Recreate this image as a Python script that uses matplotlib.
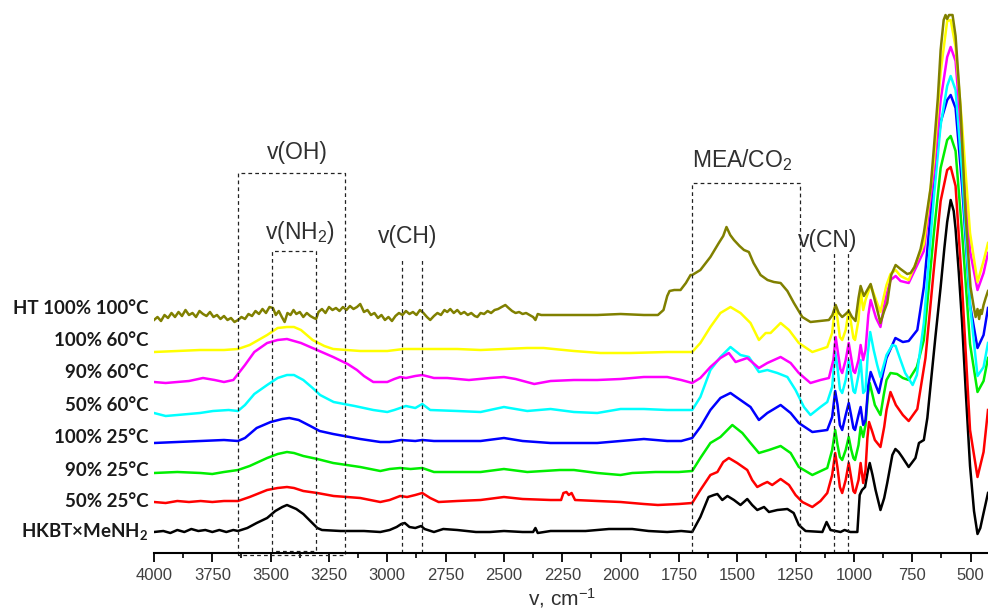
import numpy as np
import matplotlib
matplotlib.use("Agg")
import matplotlib.pyplot as plt
from matplotlib.ticker import MultipleLocator
import matplotlib.transforms as mtransforms

plt.rcParams['font.family'] = ['Liberation Sans', 'DejaVu Sans']
plt.rcParams['mathtext.default'] = 'regular'

# IR spectra, (wavenumber cm-1, offset intensity a.u.)
hkbt = [(4000, 21), (3960, 22), (3930, 20), (3900, 23), (3870, 21), (3840, 24), (3810, 22),
        (3780, 23), (3750, 21), (3720, 23), (3690, 21), (3660, 23), (3640, 22), (3600, 25),
        (3560, 30), (3515, 35), (3480, 42), (3450, 46), (3430, 48), (3410, 46), (3390, 44),
        (3360, 39), (3330, 32), (3300, 25), (3280, 23), (3200, 22), (3100, 22), (3030, 21),
        (2990, 23), (2960, 26), (2940, 29), (2925, 30), (2905, 26), (2880, 25), (2855, 27),
        (2840, 24), (2800, 21), (2760, 24), (2700, 23), (2620, 21), (2560, 21), (2500, 22),
        (2420, 21), (2375, 21), (2365, 25), (2355, 20), (2300, 22), (2150, 22), (2050, 24),
        (1950, 24), (1880, 22), (1800, 21), (1740, 22), (1693, 21), (1658, 36), (1623, 56),
        (1600, 58), (1585, 59), (1564, 53), (1542, 57), (1514, 53), (1486, 48), (1457, 54),
        (1436, 48), (1414, 43), (1385, 46), (1364, 41), (1328, 43), (1285, 44), (1258, 40),
        (1236, 28), (1207, 22), (1135, 21), (1117, 31), (1100, 23), (1057, 21), (1040, 23),
        (1015, 21), (985, 21), (975, 58), (965, 63), (952, 66), (940, 82), (932, 90),
        (920, 78), (907, 63), (886, 43), (870, 55), (857, 70), (835, 98), (822, 104),
        (808, 101), (793, 96), (765, 86), (736, 95), (721, 110), (700, 113), (685, 135),
        (671, 168), (650, 217), (628, 266), (612, 305), (600, 331), (585, 353), (572, 342),
        (564, 324), (550, 280), (536, 230), (520, 160), (502, 87), (485, 42), (470, 19),
        (458, 25), (444, 40), (425, 60)]

r50_25 = [(4000, 51), (3950, 50), (3900, 52), (3850, 51), (3800, 52), (3750, 51), (3700, 52),
          (3640, 52), (3590, 56), (3515, 63), (3470, 65), (3430, 66), (3400, 65), (3360, 62),
          (3300, 60), (3230, 57), (3116, 55), (3030, 51), (2990, 53), (2945, 57), (2915, 56),
          (2880, 58), (2850, 60), (2816, 55), (2780, 51), (2700, 52), (2600, 53), (2500, 56),
          (2420, 54), (2300, 53), (2255, 53), (2245, 60), (2232, 61), (2222, 58), (2210, 60),
          (2195, 53), (2100, 52), (2000, 51), (1900, 49), (1840, 48), (1750, 49), (1693, 50),
          (1658, 63), (1615, 78), (1585, 81), (1560, 91), (1536, 95), (1500, 90), (1457, 83),
          (1436, 73), (1414, 66), (1390, 69), (1371, 71), (1350, 68), (1314, 74), (1278, 68),
          (1250, 58), (1221, 51), (1178, 46), (1143, 52), (1114, 60), (1093, 78), (1080, 100),
          (1070, 85), (1060, 66), (1050, 60), (1035, 73), (1022, 90), (1012, 76), (1002, 62),
          (995, 60), (980, 73), (971, 90), (960, 70), (950, 83), (942, 115), (935, 131),
          (922, 122), (910, 113), (886, 106), (870, 126), (860, 143), (843, 161), (820, 148),
          (790, 138), (765, 132), (728, 144), (693, 195), (657, 284), (628, 352), (600, 383),
          (585, 386), (564, 367), (536, 266), (502, 123), (470, 76), (444, 101), (425, 143)]

g90_25 = [(4000, 80), (3900, 81), (3800, 80), (3750, 79), (3700, 81), (3640, 83), (3590, 87),
          (3515, 95), (3470, 99), (3430, 101), (3400, 100), (3360, 97), (3300, 94), (3232, 90),
          (3116, 86), (3030, 82), (2990, 84), (2945, 85), (2900, 84), (2850, 85), (2800, 81),
          (2700, 81), (2600, 81), (2500, 84), (2400, 81), (2260, 83), (2200, 83), (2100, 80),
          (2000, 78), (1950, 80), (1850, 81), (1750, 81), (1693, 82), (1658, 95), (1615, 110),
          (1572, 116), (1521, 128), (1478, 120), (1443, 110), (1407, 100), (1364, 103),
          (1314, 107), (1271, 100), (1236, 86), (1178, 78), (1114, 85), (1093, 103), (1080, 123),
          (1070, 108), (1060, 96), (1050, 93), (1035, 103), (1022, 116), (1012, 104),
          (1002, 95), (995, 93), (980, 108), (971, 126), (960, 116), (950, 128), (940, 158),
          (932, 170), (920, 158), (910, 148), (886, 138), (872, 158), (860, 173), (843, 180),
          (815, 179), (790, 175), (765, 173), (730, 186), (700, 213), (657, 320), (628, 385),
          (600, 413), (585, 417), (564, 402), (536, 320), (502, 209), (470, 161), (444, 172),
          (425, 195)]

b100_25 = [(4000, 110), (3900, 111), (3800, 112), (3700, 113), (3640, 112), (3610, 115),
           (3560, 125), (3500, 131), (3450, 134), (3420, 135), (3380, 133), (3330, 127),
           (3290, 122), (3232, 119), (3116, 114), (3030, 111), (2990, 111), (2940, 113),
           (2880, 112), (2850, 113), (2800, 112), (2700, 112), (2600, 112), (2500, 115),
           (2420, 112), (2300, 110), (2200, 110), (2100, 110), (2000, 112), (1900, 114),
           (1800, 112), (1740, 112), (1693, 115), (1658, 126), (1615, 143), (1572, 155),
           (1529, 160), (1486, 153), (1443, 146), (1407, 133), (1371, 140), (1314, 148),
           (1271, 140), (1236, 130), (1178, 121), (1114, 123), (1093, 136), (1080, 162),
           (1070, 148), (1060, 128), (1050, 123), (1035, 138), (1022, 150), (1012, 138),
           (1002, 125), (995, 123), (980, 138), (971, 146), (960, 128), (950, 133), (938, 168),
           (928, 181), (910, 170), (893, 160), (875, 180), (860, 195), (822, 215), (790, 211),
           (765, 212), (728, 223), (700, 266), (657, 374), (628, 431), (600, 453), (585, 458),
           (564, 445), (536, 367), (502, 248), (470, 205), (444, 218), (425, 245)]

c50_60 = [(4000, 140), (3950, 137), (3900, 138), (3803, 140), (3747, 142), (3680, 143),
          (3640, 142), (3610, 148), (3570, 159), (3515, 168), (3470, 175), (3430, 178),
          (3400, 178), (3360, 173), (3320, 165), (3288, 158), (3230, 151), (3140, 147),
          (3060, 143), (3000, 141), (2970, 143), (2945, 145), (2920, 147), (2880, 145),
          (2850, 149), (2816, 143), (2700, 142), (2600, 141), (2500, 146), (2400, 142),
          (2300, 144), (2200, 141), (2100, 140), (2000, 144), (1900, 144), (1800, 143),
          (1693, 143), (1658, 156), (1615, 183), (1572, 196), (1529, 206), (1486, 198),
          (1450, 196), (1407, 181), (1371, 183), (1328, 180), (1285, 176), (1250, 163),
          (1214, 146), (1186, 138), (1143, 146), (1114, 151), (1093, 166), (1080, 201),
          (1070, 185), (1060, 164), (1050, 160), (1035, 173), (1022, 193), (1012, 178),
          (1002, 162), (995, 160), (980, 178), (971, 193), (960, 160), (950, 163), (940, 200),
          (930, 221), (915, 203), (900, 188), (886, 176), (860, 198), (835, 208), (821, 207),
          (800, 193), (780, 180), (748, 168), (730, 178), (700, 230), (657, 356), (628, 428),
          (600, 467), (585, 477), (564, 463), (536, 381), (502, 248), (470, 177), (444, 186),
          (425, 210)]

m90_60 = [(4000, 171), (3950, 170), (3900, 171), (3850, 172), (3790, 175), (3740, 173),
          (3700, 171), (3660, 173), (3640, 179), (3610, 188), (3570, 201), (3515, 210),
          (3470, 213), (3430, 214), (3400, 212), (3370, 210), (3301, 203), (3232, 196),
          (3170, 189), (3130, 183), (3100, 177), (3060, 171), (3000, 171), (2970, 174),
          (2945, 176), (2920, 175), (2880, 177), (2850, 178), (2800, 175), (2743, 175),
          (2650, 173), (2560, 175), (2500, 176), (2450, 174), (2370, 169), (2300, 172),
          (2200, 173), (2100, 173), (2000, 174), (1900, 176), (1800, 176), (1740, 173),
          (1693, 170), (1658, 175), (1615, 186), (1572, 195), (1536, 200), (1507, 191),
          (1457, 195), (1407, 185), (1371, 190), (1314, 196), (1271, 190), (1236, 180),
          (1186, 170), (1143, 173), (1107, 175), (1088, 193), (1078, 216), (1068, 200),
          (1058, 184), (1050, 180), (1035, 193), (1022, 210), (1012, 196), (1002, 182),
          (995, 180), (980, 193), (971, 208), (960, 193), (950, 203), (938, 238), (928, 253),
          (905, 235), (886, 226), (872, 245), (860, 258), (843, 273), (821, 277), (800, 272),
          (765, 270), (700, 302), (657, 381), (628, 453), (600, 496), (585, 506), (564, 492),
          (536, 410), (502, 302), (470, 263), (444, 280), (425, 300)]

y100_60 = [(4000, 201), (3900, 202), (3803, 203), (3700, 203), (3640, 204), (3590, 208),
           (3515, 218), (3470, 225), (3430, 226), (3400, 226), (3370, 223), (3320, 213),
           (3270, 207), (3232, 204), (3116, 202), (3000, 202), (2930, 204), (2850, 204),
           (2700, 204), (2600, 203), (2500, 204), (2400, 205), (2330, 205), (2200, 202),
           (2087, 200), (1958, 200), (1800, 201), (1693, 201), (1658, 210), (1615, 226),
           (1572, 240), (1529, 246), (1486, 240), (1443, 230), (1407, 213), (1378, 220),
           (1357, 220), (1314, 230), (1278, 223), (1236, 210), (1178, 201), (1114, 206),
           (1093, 220), (1080, 248), (1070, 234), (1060, 216), (1050, 213), (1035, 223),
           (1022, 243), (1012, 230), (1002, 215), (995, 213), (980, 233), (971, 263), (960, 243),
           (950, 253), (928, 268), (905, 253), (886, 241), (872, 256), (860, 268), (843, 279),
           (821, 283), (800, 277), (765, 273), (700, 309), (657, 392), (628, 481), (600, 532),
           (585, 533), (564, 506), (536, 428), (502, 320), (470, 271), (444, 292), (425, 310)]

ht100_100 = [(4000, 233), (3985, 236), (3970, 232), (3955, 238), (3940, 235), (3925, 240),
             (3910, 236), (3895, 241), (3880, 237), (3865, 243), (3850, 238), (3835, 240),
             (3820, 236), (3805, 242), (3790, 239), (3775, 237), (3760, 241), (3745, 236),
             (3730, 238), (3715, 234), (3700, 237), (3685, 233), (3670, 235), (3655, 231),
             (3640, 233), (3625, 236), (3610, 234), (3595, 239), (3580, 237), (3565, 242),
             (3550, 239), (3535, 244), (3520, 240), (3505, 246), (3490, 245), (3478, 238),
             (3465, 242), (3452, 236), (3440, 231), (3428, 240), (3415, 238), (3402, 243),
             (3390, 239), (3375, 241), (3360, 236), (3345, 240), (3330, 237), (3315, 235),
             (3305, 234), (3295, 241), (3280, 244), (3265, 240), (3250, 246), (3235, 243),
             (3220, 245), (3205, 242), (3190, 246), (3175, 243), (3160, 247), (3145, 244),
             (3130, 246), (3116, 249), (3100, 241), (3085, 243), (3070, 238), (3055, 240),
             (3040, 235), (3025, 238), (3010, 233), (2995, 236), (2980, 232), (2965, 237),
             (2950, 240), (2935, 238), (2920, 242), (2905, 239), (2890, 241), (2875, 238),
             (2860, 243), (2845, 240), (2830, 236), (2816, 233), (2800, 237), (2785, 240),
             (2770, 238), (2755, 243), (2743, 241), (2730, 244), (2715, 240), (2700, 243),
             (2685, 239), (2670, 241), (2655, 238), (2640, 240), (2625, 237), (2614, 236),
             (2600, 240), (2585, 239), (2570, 242), (2555, 240), (2540, 243), (2525, 244),
             (2510, 246), (2494, 248), (2480, 245), (2465, 242), (2450, 240), (2435, 241),
             (2420, 239), (2405, 240), (2390, 238), (2375, 236), (2365, 233), (2355, 239),
             (2340, 238), (2320, 238), (2200, 238), (2100, 238), (2000, 239), (1900, 238),
             (1840, 238), (1816, 243), (1800, 257), (1790, 262), (1770, 263), (1743, 263),
             (1720, 270), (1700, 278), (1693, 278), (1658, 283), (1615, 296), (1579, 310),
             (1560, 317), (1546, 326), (1530, 318), (1514, 313), (1490, 307), (1471, 303),
             (1450, 301), (1430, 290), (1400, 278), (1370, 273), (1343, 271), (1314, 270),
             (1285, 262), (1257, 250), (1221, 236), (1186, 231), (1107, 233), (1092, 238),
             (1078, 248), (1065, 240), (1050, 236), (1035, 239), (1022, 242), (1008, 236),
             (993, 232), (980, 255), (971, 267), (957, 257), (945, 262), (928, 269), (905, 248),
             (886, 230), (870, 242), (857, 250), (840, 278), (821, 288), (800, 284), (771, 279),
             (757, 280), (740, 286), (714, 304), (700, 320), (671, 365), (657, 405), (640, 455),
             (628, 503), (615, 533), (607, 538), (600, 534), (592, 538), (577, 538), (564, 517),
             (543, 446), (521, 338), (500, 266), (486, 246), (478, 236), (470, 244), (463, 234),
             (457, 243), (452, 239), (444, 248), (435, 255), (425, 262)]

series = [
    (hkbt, 'black', 'HKBT×MeNH$_2$', 16),
    (r50_25, '#FF0000', '50% 25°C', 46),
    (g90_25, '#00EE00', '90% 25°C', 77),
    (b100_25, '#0000FF', '100% 25°C', 110),
    (c50_60, '#00FFFF', '50% 60°C', 142),
    (m90_60, '#FF00FF', '90% 60°C', 175),
    (y100_60, '#FFFF00', '100% 60°C', 207),
    (ht100_100, '#808000', 'HT 100% 100°C', 239),
]

fig = plt.figure(figsize=(9.88, 6.10), dpi=100)
ax = fig.add_axes([154 / 988, 57 / 610, 834 / 988, 543 / 610])

for pts, color, label, ylab in series:
    wn, inten = np.array(pts, dtype=float).T
    ax.plot(wn, inten, color=color, lw=1.8, solid_joinstyle='round')

trans = mtransforms.blended_transform_factory(ax.transAxes, ax.transData)
for pts, color, label, ylab in series:
    ax.text(-0.006, ylab, label, transform=trans, ha='right', va='baseline',
            family=['Lato', 'DejaVu Sans'], fontweight='bold', fontsize=13.5,
            color='#1a1a1a', clip_on=False)

# band assignment boxes
dash = dict(color='#222222', lw=0.9, ls=(0, (3, 2.5)), clip_on=False)
ax.plot([3640, 3640, 3181, 3181, 3640], [-2, 380, 380, -2, -2], **dash)
ax.plot([3494, 3494, 3305, 3305, 3494], [2, 302, 302, 2, 2], **dash)
ax.plot([2936, 2936], [0, 293], **dash)
ax.plot([2850, 2850], [0, 293], **dash)
ax.plot([1693, 1693, 1233, 1233], [0, 370, 370, 0], **dash)
ax.plot([1083, 1083], [0, 302], **dash)
ax.plot([1023, 1023], [0, 302], **dash)

tcol = '#303030'
ax.text(3387, 400, 'v(OH)', ha='center', va='center', fontsize=16.5, color=tcol)
ax.text(3374, 321, 'v(NH$_2$)', ha='center', va='center', fontsize=16.5, color=tcol)
ax.text(2911, 316, 'v(CH)', ha='center', va='center', fontsize=16.5, color=tcol)
ax.text(1478, 393, 'MEA/CO$_2$', ha='center', va='center', fontsize=16.5, color=tcol)
ax.text(1111, 312, 'v(CN)', ha='center', va='center', fontsize=16.5, color=tcol)

ax.set_xlim(4000, 425)
ax.set_ylim(0, 543)
ax.xaxis.set_major_locator(MultipleLocator(250))
ax.xaxis.set_minor_locator(MultipleLocator(125))
ax.tick_params(axis='x', which='major', direction='out', length=6.5, width=1.3,
               labelsize=12, labelcolor='#404040', pad=4)
ax.tick_params(axis='x', which='minor', direction='out', length=3.5, width=1.2)
ax.set_yticks([])
for side in ('left', 'right', 'top'):
    ax.spines[side].set_visible(False)
ax.spines['bottom'].set_linewidth(1.5)
ax.patch.set_alpha(0)

fig.text(562 / 988, 5 / 610, 'v, cm$^{-1}$', ha='center', va='baseline',
         fontsize=15, color='#303030')

fig.savefig('out.png', dpi=100)
